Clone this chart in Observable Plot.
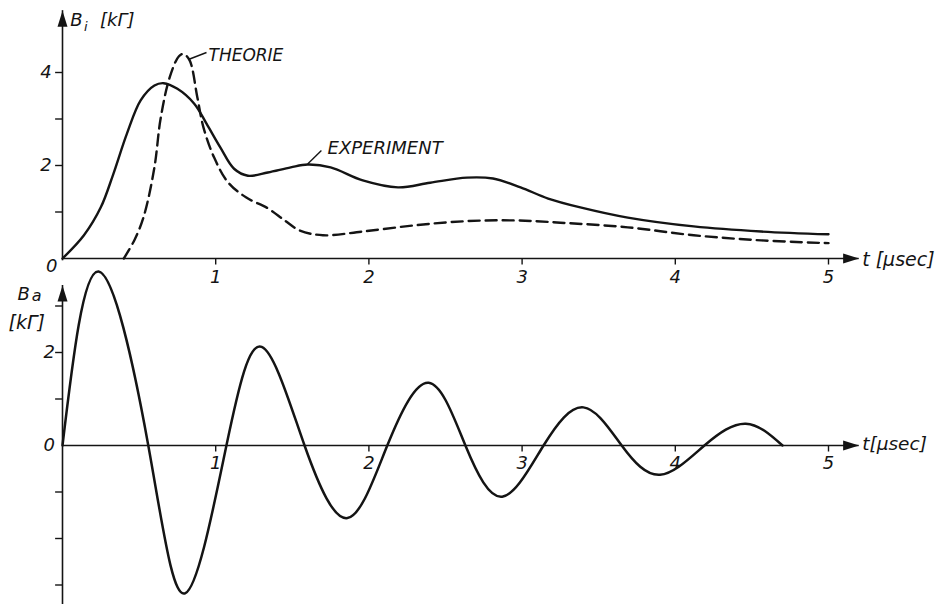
<!DOCTYPE html>
<html>
<head>
<meta charset="utf-8">
<script src="https://cdn.jsdelivr.net/npm/d3@7"></script>
<script src="https://cdn.jsdelivr.net/npm/@observablehq/plot@0.6"></script>
<style>
  body { margin: 0; background: #fff; }
  #chart { position: relative; width: 939px; height: 604px; background: #fff; }
</style>
</head>
<body>
<div id="chart"></div>
<script>
// ---- Data (t in µsec, B in kΓ) ----
const experimentT = [0, 0.14, 0.25, 0.33, 0.42, 0.51, 0.6, 0.66, 0.75, 0.86, 0.94, 1.03, 1.12, 1.21, 1.34, 1.49, 1.6, 1.75, 1.96, 2.19, 2.4, 2.64, 2.81, 2.99, 3.17, 3.38, 3.69, 4.12, 4.56, 5.0];
const experimentB = [0, 0.5, 1.1, 1.8, 2.68, 3.4, 3.72, 3.77, 3.65, 3.33, 2.9, 2.39, 1.93, 1.78, 1.85, 1.96, 2.02, 1.96, 1.68, 1.53, 1.63, 1.74, 1.72, 1.53, 1.29, 1.1, 0.88, 0.69, 0.58, 0.52];

const theoryT = [0.4, 0.47, 0.53, 0.6, 0.64, 0.7, 0.76, 0.79, 0.83, 0.88, 0.92, 0.99, 1.08, 1.2, 1.34, 1.45, 1.55, 1.7, 1.96, 2.29, 2.62, 2.94, 3.25, 3.69, 4.12, 4.56, 5.0];
const theoryB = [0, 0.4, 0.9, 1.96, 3.0, 3.9, 4.35, 4.4, 4.26, 3.47, 2.82, 2.17, 1.64, 1.31, 1.08, 0.82, 0.6, 0.5, 0.58, 0.71, 0.8, 0.82, 0.77, 0.67, 0.5, 0.39, 0.33];

// outer field: zero crossings and extrema
const outerT = [0, 0.235, 0.56, 0.8, 1.07, 1.3, 1.58, 1.86, 2.12, 2.39, 2.63, 2.87, 3.14, 3.4, 3.65, 3.9, 4.19, 4.46, 4.7];
const outerB = [0, 3.74, 0, -3.18, 0, 2.12, 0, -1.56, 0, 1.35, 0, -1.1, 0, 0.82, 0, -0.63, 0, 0.47, 0];

const xTicks = [1, 2, 3, 4, 5];
const topYTicks = [1, 2, 3, 4];
const topYLabels = [2, 4];
const botYTicks = [-3, -2, -1, 1, 2, 3];
const botYLabels = [0, 2];

const experiment = experimentT.map((t, i) => ({t, b: experimentB[i]}));
const theory = theoryT.map((t, i) => ({t, b: theoryB[i]}));
const outer = outerT.map((t, i) => ({t, b: outerB[i]}));

// ---- Styling ----
const ink = "#141414";
const font = "DejaVu Sans";
const arrowShape = {
  draw(context, l, r) {
    context.moveTo(0, -l);
    context.lineTo(r, 0);
    context.lineTo(-r, 0);
    context.closePath();
  }
};
const txt = {fontFamily: font, fontStyle: "italic", fill: ink, stroke: null};
const base = {
  width: 939, height: 604, margin: 0,
  style: {position: "absolute", left: "0px", top: "0px", background: "transparent", overflow: "visible", color: ink}
};

// ---- Top panel: B_i ----
const topPanel = Plot.plot({
  ...base,
  x: {domain: [0, 5], range: [62, 828], axis: null},
  y: {domain: [0, 4], range: [258, 72], axis: null},
  marks: [
    Plot.ruleY([0], {x1: 0, x2: 5.2, stroke: ink, strokeWidth: 1.6}),
    Plot.vector([0], {x: 5.2, y: 0, rotate: 90, length: 16, r: 5, anchor: "end", shape: arrowShape, fill: ink, stroke: null}),
    Plot.ruleX([0], {y1: -0.05, y2: 5.33, stroke: ink, strokeWidth: 1.6}),
    Plot.vector([0], {x: 0, y: 5.33, rotate: 0, length: 16, r: 5, anchor: "end", shape: arrowShape, fill: ink, stroke: null}),
    Plot.ruleX(xTicks, {x: d => d, y1: 0, y2: -0.14, stroke: ink, strokeWidth: 1.4}),
    Plot.text(xTicks, {x: d => d, y: -0.4, text: d => String(d), fontSize: 18, ...txt}),
    Plot.ruleY(topYTicks, {y: d => d, x1: -0.045, x2: 0, stroke: ink, strokeWidth: 1.4}),
    Plot.text(topYLabels, {x: -0.07, y: d => d, text: d => String(d), textAnchor: "end", fontSize: 18, ...txt}),
    Plot.text(["0"], {x: -0.07, y: -0.17, text: d => d, fontSize: 18, ...txt}),
    Plot.text(["B"], {x: 0.05, y: 5.12, text: d => d, textAnchor: "start", fontSize: 18, ...txt}),
    Plot.text(["i"], {x: 0.14, y: 4.98, text: d => d, textAnchor: "start", fontSize: 13, ...txt}),
    Plot.text(["[kΓ]"], {x: 0.245, y: 5.12, text: d => d, textAnchor: "start", fontSize: 18, ...txt}),
    Plot.text(["t [µsec]"], {x: 5.22, y: -0.03, text: d => d, textAnchor: "start", fontSize: 19, ...txt}),
    Plot.line(experiment, {x: "t", y: "b", curve: "catmull-rom", stroke: ink, strokeWidth: 2.4}),
    Plot.line(theory, {x: "t", y: "b", curve: "catmull-rom", stroke: ink, strokeWidth: 2.4, strokeDasharray: "11,6"}),
    Plot.link([0], {x1: 0.822, y1: 4.28, x2: 0.94, y2: 4.43, stroke: ink, strokeWidth: 1.4}),
    Plot.text(["THEORIE"], {x: 0.953, y: 4.37, text: d => d, textAnchor: "start", fontSize: 17, ...txt}),
    Plot.link([0], {x1: 1.6, y1: 2.03, x2: 1.69, y2: 2.32, stroke: ink, strokeWidth: 1.4}),
    Plot.text(["EXPERIMENT"], {x: 1.73, y: 2.37, text: d => d, textAnchor: "start", fontSize: 18, ...txt})
  ]
});

// ---- Bottom panel: B_a ----
const bottomPanel = Plot.plot({
  ...base,
  x: {domain: [0, 5], range: [62, 828], axis: null},
  y: {domain: [0, 2], range: [445, 352], axis: null},
  marks: [
    Plot.ruleY([0], {x1: 0, x2: 5.2, stroke: ink, strokeWidth: 1.6}),
    Plot.vector([0], {x: 5.2, y: 0, rotate: 90, length: 16, r: 5, anchor: "end", shape: arrowShape, fill: ink, stroke: null}),
    Plot.ruleX([0], {y1: -3.45, y2: 3.44, stroke: ink, strokeWidth: 1.6}),
    Plot.vector([0], {x: 0, y: 3.44, rotate: 0, length: 16, r: 5, anchor: "end", shape: arrowShape, fill: ink, stroke: null}),
    Plot.ruleX(xTicks, {x: d => d, y1: 0, y2: -0.14, stroke: ink, strokeWidth: 1.4}),
    Plot.text(xTicks, {x: d => d, y: -0.38, text: d => String(d), fontSize: 18, ...txt}),
    Plot.ruleY(botYTicks, {y: d => d, x1: -0.045, x2: 0, stroke: ink, strokeWidth: 1.4}),
    Plot.text(botYLabels, {x: -0.05, y: d => d, text: d => String(d), textAnchor: "end", fontSize: 18, ...txt}),
    Plot.text(["B"], {x: -0.293, y: 3.25, text: d => d, textAnchor: "start", fontSize: 18, ...txt}),
    Plot.text(["a"], {x: -0.2, y: 3.21, text: d => d, textAnchor: "start", fontSize: 16, ...txt}),
    Plot.text(["[kΓ]"], {x: -0.352, y: 2.63, text: d => d, textAnchor: "start", fontSize: 19, ...txt}),
    Plot.text(["t[µsec]"], {x: 5.22, y: 0.02, text: d => d, textAnchor: "start", fontSize: 18.5, ...txt}),
    Plot.line(outer, {x: "t", y: "b", curve: "natural", stroke: ink, strokeWidth: 2.5})
  ]
});

const chart = document.getElementById("chart");
chart.append(topPanel, bottomPanel);
</script>
</body>
</html>
